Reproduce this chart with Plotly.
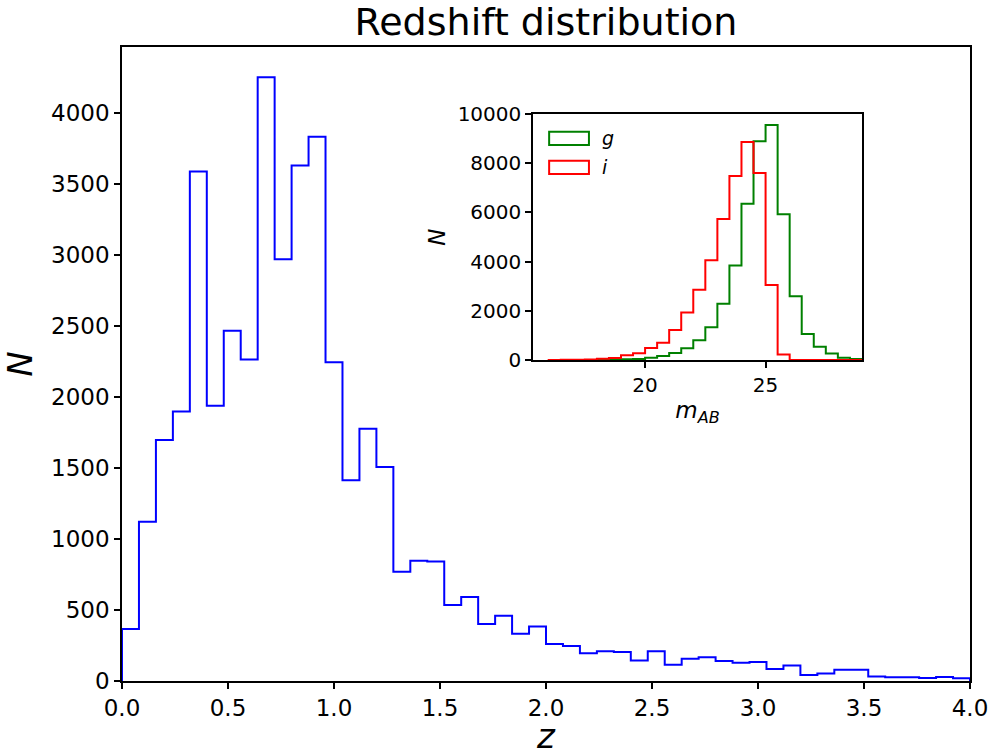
import plotly.graph_objects as go

# ---- main histogram: redshift distribution (50 bins, 0..4) ----
z_edges = [round(i * 0.08, 2) for i in range(51)]
z_counts = [367, 1121, 1697, 1897, 3587, 1939, 2466, 2264, 4252, 2970,
            3630, 3833, 2244, 1414, 1776, 1507, 769, 847, 841, 536,
            591, 402, 460, 332, 384, 261, 247, 196, 210, 205,
            144, 210, 114, 156, 168, 141, 128, 134, 85, 110,
            43, 52, 79, 79, 32, 27, 27, 21, 28, 19]

# ---- inset: magnitude distributions (0.5 mag bins, 16..29) ----
m_edges = [16 + 0.5 * i for i in range(27)]
g_counts = [0, 0, 2, 5, 8, 15, 30, 45, 95, 160,
            285, 475, 800, 1330, 2290, 3840, 6350, 8890, 9550, 5920,
            2590, 1060, 540, 260, 95, 40]
i_counts = [5, 8, 12, 25, 50, 80, 190, 270, 490, 705,
            1220, 1930, 2860, 4060, 5730, 7480, 8860, 7600, 3050, 220,
            0, 0, 0, 0, 0, 0]

legend_labels = ["<i>g</i>", "<i>i</i>"]
legend_colors = ["#008000", "#ff0000"]

main_xticks = [0.0, 0.5, 1.0, 1.5, 2.0, 2.5, 3.0, 3.5, 4.0]
main_yticks = list(range(0, 4001, 500))
inset_xticks = [20, 25]
inset_yticks = list(range(0, 10001, 2000))


def step_xy(edges, counts):
    x = [edges[0]] + list(edges)
    y = [0] + list(counts) + [0]
    return x, y


FONT = "DejaVu Sans"

fig = go.Figure()

zx, zy = step_xy(z_edges, z_counts)
fig.add_trace(go.Scatter(x=zx, y=zy, mode="lines", line=dict(color="#0000ff", width=2, shape="hv"),
                         showlegend=False, xaxis="x", yaxis="y", hoverinfo="skip"))

for counts, name, col in [(g_counts, legend_labels[0], legend_colors[0]),
                          (i_counts, legend_labels[1], legend_colors[1])]:
    sx, sy = step_xy(m_edges, counts)
    fig.add_trace(go.Scatter(x=sx, y=sy, mode="lines", name=name,
                             line=dict(color=col, width=2, shape="hv"),
                             showlegend=False, xaxis="x2", yaxis="y2", hoverinfo="skip"))

# legend drawn inside the inset (outlined patches like matplotlib step histograms)
box_tops = [0.928, 0.810]
for k, (lab, col) in enumerate(zip(legend_labels, legend_colors)):
    top = box_tops[k]
    fig.add_shape(type="rect", xref="x2 domain", yref="y2 domain",
                  x0=0.049, x1=0.170, y0=top - 0.054, y1=top,
                  line=dict(color=col, width=2), fillcolor="rgba(0,0,0,0)")
    fig.add_annotation(text=lab, xref="x2 domain", yref="y2 domain",
                       x=0.205, y=top - 0.027, xanchor="left", yanchor="middle",
                       showarrow=False, font=dict(family=FONT, size=19, color="black"))

# main x-axis label (placed as text below the tick labels)
fig.add_annotation(text="<i>z</i>", xref="paper", yref="paper", x=0.5, y=-0.086,
                   xanchor="center", yanchor="middle", showarrow=False,
                   font=dict(family=FONT, size=34, color="black"))

axis_common = dict(showgrid=False, zeroline=False, showline=True, linecolor="black", linewidth=1.5,
                   mirror=True, ticks="outside", ticklen=6, tickwidth=1.5, tickcolor="black",
                   automargin=False)

ymax = max(z_counts) * 1.05

fig.update_layout(
    width=991, height=751,
    margin=dict(l=122, r=21, t=47, b=70),
    paper_bgcolor="white", plot_bgcolor="white",
    font=dict(family=FONT, color="black"),
    showlegend=False,
    title=dict(text="Redshift distribution", font=dict(family=FONT, size=38, color="black"),
               x=0.5, xanchor="center", xref="paper", y=1, yref="paper", yanchor="bottom",
               pad=dict(b=12)),
    xaxis=dict(domain=[0, 1], range=[0, 4], tickvals=main_xticks,
               ticktext=[f"{v:.1f}" for v in main_xticks],
               tickfont=dict(size=23), anchor="y", **axis_common),
    yaxis=dict(domain=[0, 1], range=[0, ymax], tickvals=main_yticks,
               ticktext=[str(v) for v in main_yticks],
               tickfont=dict(size=23), title=dict(text="<i>N</i>", font=dict(size=34), standoff=10),
               anchor="x", **axis_common),
    xaxis2=dict(domain=[0.4847, 0.8726], range=[15.35, 29.0], tickvals=inset_xticks,
                ticktext=[str(v) for v in inset_xticks],
                tickfont=dict(size=20),
                title=dict(text="<i>m</i><sub><i>AB</i></sub>", font=dict(size=23), standoff=6),
                anchor="y2", **axis_common),
    yaxis2=dict(domain=[0.5063, 0.8943], range=[0, 10000], tickvals=inset_yticks,
                ticktext=[str(v) for v in inset_yticks],
                tickfont=dict(size=20), title=dict(text="<i>N</i>", font=dict(size=23), standoff=6),
                anchor="x2", **axis_common),
)

fig.write_html("out.html")
